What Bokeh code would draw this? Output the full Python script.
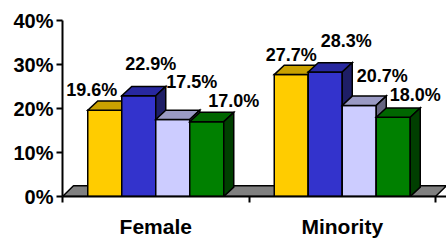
from bokeh.plotting import figure
from bokeh.models import ColumnDataSource, FixedTicker, PrintfTickFormatter, Range1d
from bokeh.core.properties import value
from bokeh.embed import file_html
from bokeh.resources import INLINE

# ---- data ----
categories = ["Female", "Minority"]
series_names = ["Series 1", "Series 2", "Series 3", "Series 4"]
female = [19.6, 22.9, 17.5, 17.0]
minority = [27.7, 28.3, 20.7, 18.0]
y_ticks = [0, 10, 20, 30, 40]

# ---- style ----
front_colors = ["#FFCC00", "#3333CC", "#CCCCFF", "#008000"]
top_colors = ["#C9A100", "#2828A0", "#9A9AC4", "#006600"]
side_colors = ["#997A00", "#1E1E66", "#666680", "#003F00"]
# per-label pixel offsets (layout, relative to bar top centre)
label_dx = [-13, 12, 19, 27, 0, 21, 23, 22]
label_dy = [20, 32, 38, 21, 20, 31, 29, 22]

values = [female, minority]
n_cat = len(categories)
n_ser = len(series_names)

W, H = 446, 240
left_b, top_b, bottom_b = 62, 20, 41
frame_w = W - left_b
frame_h = H - top_b - bottom_b
px_per_cat = 186.5
px_per_pct = frame_h / 40.0
x_end = frame_w / px_per_cat

bar_w = 34.0 / px_per_cat
dx = 10.0 / px_per_cat
dy = 9.5 / px_per_pct
fdx = 11.0 / px_per_cat
fdy = 11.0 / px_per_pct

p = figure(width=W, height=H, output_backend="svg", toolbar_location=None,
           x_range=Range1d(0, x_end), y_range=Range1d(0, 40),
           min_border_left=left_b, min_border_right=0,
           min_border_top=top_b, min_border_bottom=bottom_b,
           outline_line_color=None, background_fill_color=None,
           border_fill_color="white")
p.grid.visible = False

# floor
p.patch([0, n_cat, n_cat + fdx, fdx], [0, 0, fdy, fdy],
        fill_color="#808080", line_color="black", line_width=1.5)

# 3D bars, drawn bar by bar (front, top, side)
xs, ys, fills = [], [], []
lx, ly, lt = [], [], []
for i in range(n_cat):
    for j in range(n_ser):
        v = values[i][j]
        x0 = i + 0.5 + (j - n_ser / 2) * bar_w
        x1 = x0 + bar_w
        xs.append([x0, x1, x1, x0]); ys.append([0, 0, v, v]); fills.append(front_colors[j])
        xs.append([x0, x1, x1 + dx, x0 + dx]); ys.append([v, v, v + dy, v + dy]); fills.append(top_colors[j])
        xs.append([x1, x1 + dx, x1 + dx, x1]); ys.append([0, dy, v + dy, v]); fills.append(side_colors[j])
        lx.append((x0 + x1) / 2); ly.append(v); lt.append(f"{v:.1f}%")

src = ColumnDataSource(dict(xs=xs, ys=ys, fill=fills))
p.patches("xs", "ys", source=src, fill_color="fill", line_color="black",
          line_width=1.5, line_join="miter")

lsrc = ColumnDataSource(dict(x=lx, y=ly, t=lt, xo=label_dx, yo=[-d for d in label_dy]))
p.text("x", "y", text="t", source=lsrc, x_offset="xo", y_offset="yo",
       text_align="center", text_baseline="alphabetic",
       text_font=value("Liberation Sans"), text_font_style="bold",
       text_font_size="18px", text_color="black")

# y axis
ya = p.yaxis[0]
ya.ticker = FixedTicker(ticks=y_ticks, minor_ticks=[])
ya.formatter = PrintfTickFormatter(format="%d%%")
ya.axis_line_width = 2
ya.axis_line_color = "black"
ya.major_tick_in = 0
ya.major_tick_out = 6
ya.major_tick_line_width = 2
ya.minor_tick_line_color = None
ya.major_label_standoff = 3
ya.major_label_text_font = "Liberation Sans"
ya.major_label_text_font_style = "bold"
ya.major_label_text_font_size = "20px"
ya.major_label_text_color = "black"

# x axis: labels at category centres, tick marks at category boundaries
xa = p.xaxis[0]
centres = [i + 0.5 for i in range(n_cat)]
xa.ticker = FixedTicker(ticks=centres, minor_ticks=list(range(n_cat + 1)))
xa.major_label_overrides = {c: name for c, name in zip(centres, categories)}
xa.axis_line_width = 2
xa.axis_line_color = "black"
xa.major_tick_in = 0
xa.major_tick_out = 0
xa.minor_tick_in = 0
xa.minor_tick_out = 6
xa.minor_tick_line_width = 2
xa.minor_tick_line_color = "black"
xa.major_label_standoff = 12
xa.major_label_text_font = "Liberation Sans"
xa.major_label_text_font_style = "bold"
xa.major_label_text_font_size = "21px"
xa.major_label_text_color = "black"

open("out.html", "w").write(file_html(p, INLINE))
